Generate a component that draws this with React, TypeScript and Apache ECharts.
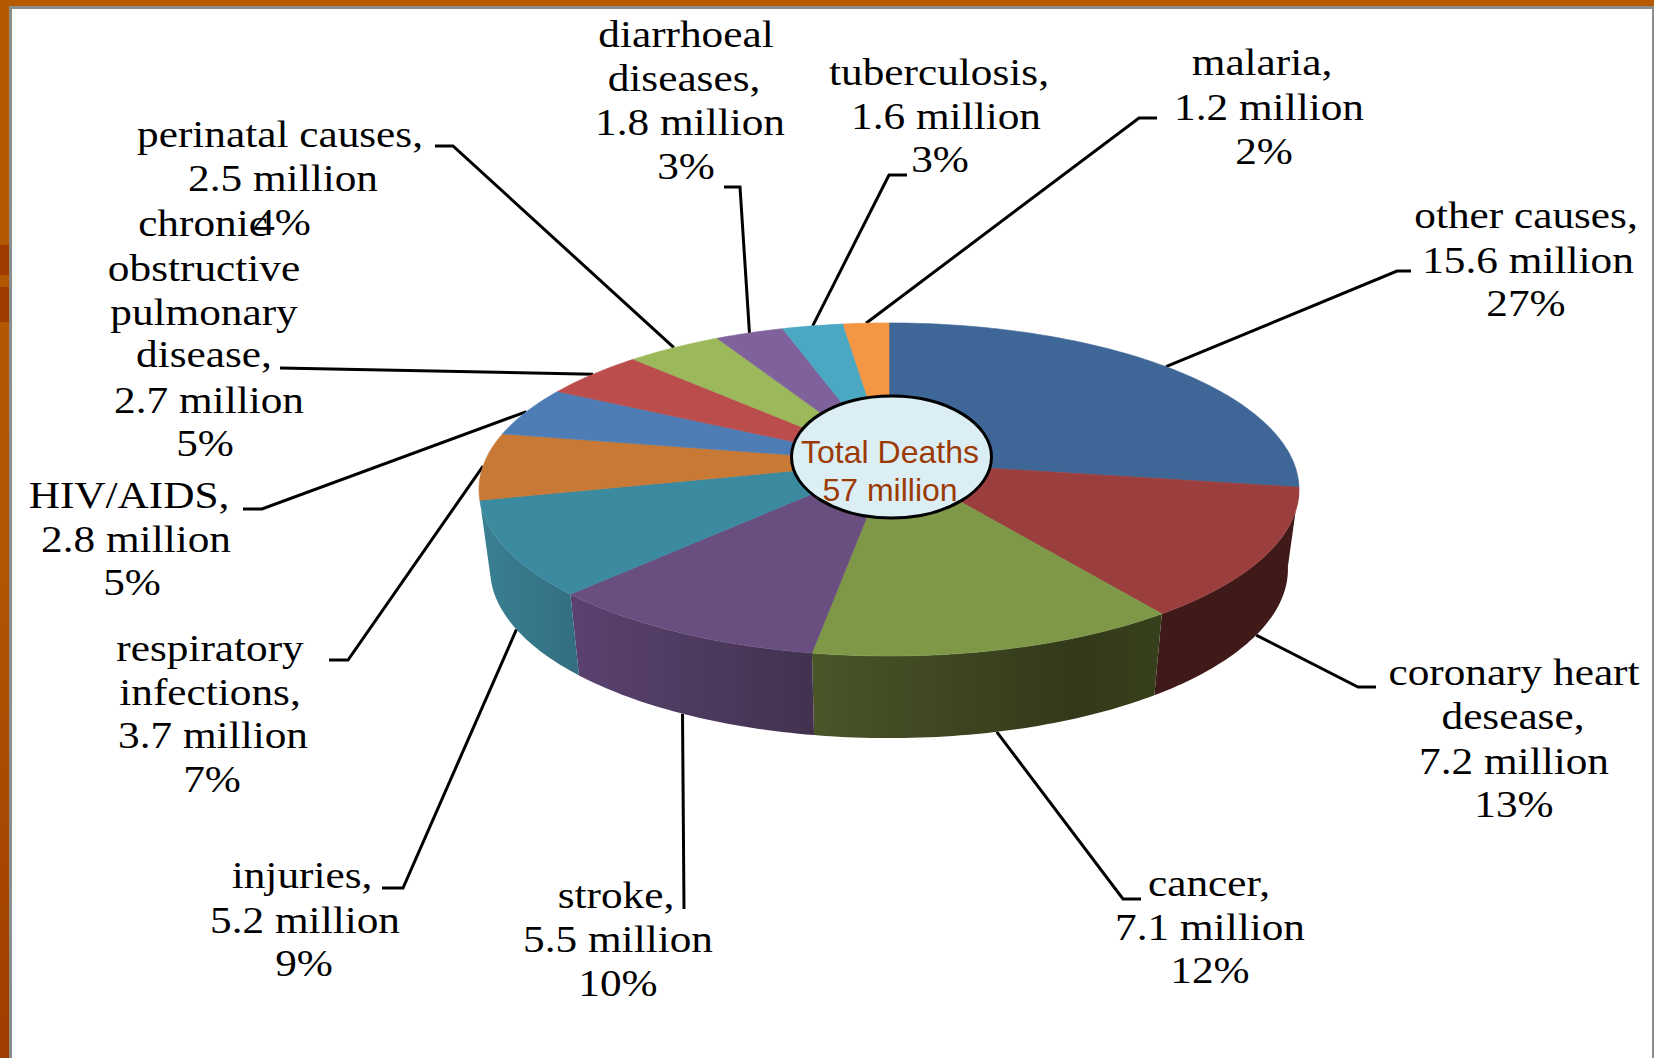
import React, { useEffect, useRef } from "react";
import * as echarts from "echarts";

// Causes of death, clockwise from twelve o'clock
const causes: string[][] = [
  ["other causes,"],
  ["coronary heart", "desease,"],
  ["cancer,"],
  ["stroke,"],
  ["injuries,"],
  ["respiratory", "infections,"],
  ["HIV/AIDS,"],
  ["chronic", "obstructive", "pulmonary", "disease,"],
  ["perinatal causes,"],
  ["diarrhoeal", "diseases,"],
  ["tuberculosis,"],
  ["malaria,"],
];
const deathsMillions = [15.6, 7.2, 7.1, 5.5, 5.2, 3.7, 2.8, 2.7, 2.5, 1.8, 1.6, 1.2];
const sharePercents = [27, 13, 12, 10, 9, 7, 5, 5, 4, 3, 3, 2];
const centerLines = ["Total Deaths", "57 million"];

const topColors = [
  "#3e6797", "#9a3f3d", "#7e9848", "#684f80", "#3b8aa0", "#c87935",
  "#4e7db6", "#bb4e4d", "#9bb85a", "#7f619c", "#4aa8c2", "#f49643",
];
const wallStops: Record<number, [number, string][]> = {
  1: [[0, "#3f1a19"], [1, "#3f1a19"]],
  2: [[0, "#4a5528"], [0.75, "#33391a"], [1, "#37401c"]],
  3: [[0, "#5a4270"], [1, "#42324f"]],
  4: [[0, "#3a8093"], [1, "#336e80"]],
};

// Centre of each text line, one list per slice
const labelCenters: [number, number][][] = [
  [[1526, 216], [1528, 261], [1526, 304]],
  [[1514, 673], [1513, 717], [1514, 762], [1514, 805]],
  [[1209, 884], [1210, 928], [1210, 971]],
  [[616, 896], [618, 940], [618, 984]],
  [[302, 876], [305, 921], [304, 964]],
  [[210, 649], [210, 693], [213, 736], [212, 780]],
  [[129, 496], [136, 540], [132, 583]],
  [[203, 224], [204, 269], [204, 313], [204, 355], [209, 401], [205, 444]],
  [[280, 135], [283, 179], [282, 223]],
  [[686, 35], [684, 79], [690, 123], [686, 167]],
  [[939, 73], [946, 117], [940, 160]],
  [[1262, 63], [1269, 108], [1264, 152]],
];
// Bend points of each leader, running from the pie towards the label
const leaderRuns: [number, number][][] = [
  [[1397, 271], [1411, 271]],
  [[1358, 687], [1376, 687]],
  [[1123, 899], [1141, 899]],
  [[684, 909]],
  [[403, 888], [382, 888]],
  [[348, 660], [329, 660]],
  [[262, 509], [243, 509]],
  [[280, 368]],
  [[453, 146], [435, 146]],
  [[740, 187], [724, 187]],
  [[889, 175], [907, 175]],
  [[1139, 118], [1157, 118]],
];

// Perspective disc: k foreshortens the far side, apexY is where the slices meet
const PIE = { cx: 889, apexY: 462, a: 404.4, b: 162, k: 0.165 };
const FLOOR = { scaleX: 0.973, scaleY: 1.016, apexY: 541 };
const TEXT_FONT = "Liberation Serif";
const TEXT_SIZE = 37;
const TEXT_STRETCH = 1.17;

const total = deathsMillions.reduce((s, v) => s + v, 0);
const startAngles = deathsMillions.map(
  (_, i) => (deathsMillions.slice(0, i).reduce((s, v) => s + v, 0) / total) * 360
);
const endAngle = (i: number) => startAngles[i] + (deathsMillions[i] / total) * 360;

function rim(deg: number, sx = 1, sy = 1, apexY = PIE.apexY): [number, number] {
  const t = (deg * Math.PI) / 180;
  const w = 1 + PIE.k * Math.cos(t);
  return [
    PIE.cx + (sx * PIE.a * Math.sin(t)) / w,
    apexY - (sy * PIE.b * Math.cos(t)) / w,
  ];
}
const floorRim = (deg: number) => rim(deg, FLOOR.scaleX, FLOOR.scaleY, FLOOR.apexY);

function arc(from: number, to: number, at: (deg: number) => [number, number] = rim) {
  const steps = Math.max(4, Math.ceil(to - from));
  const pts: [number, number][] = [];
  for (let i = 0; i <= steps; i++) pts.push(at(from + ((to - from) * i) / steps));
  return pts;
}

const isFrontWall = (i: number) => startAngles[i] >= 90 && endAngle(i) <= 270;

function leaderPoints(i: number): [number, number][] {
  const mid = (startAngles[i] + endAngle(i)) / 2;
  const anchor = isFrontWall(i) ? floorRim(mid) : rim(mid);
  return [anchor, ...leaderRuns[i]];
}

const seriesData = deathsMillions.map((v, i) => [i, v]);

function buildOption(): any {
  return {
    animation: false,
    backgroundColor: "#ffffff",
    graphic: [
      { type: "rect", z: 1, shape: { x: 0, y: 0, width: 1654, height: 6 }, style: { fill: "#b65a02" } },
      {
        type: "rect", z: 1, shape: { x: 0, y: 0, width: 9, height: 1058 },
        style: {
          fill: {
            type: "linear", x: 0, y: 0, x2: 0, y2: 1,
            colorStops: [
              { offset: 0, color: "#b65a02" },
              { offset: 0.55, color: "#b25402" },
              { offset: 1, color: "#a03c00" },
            ],
          },
        },
      },
      { type: "rect", z: 2, shape: { x: 0, y: 245, width: 9, height: 30 }, style: { fill: "#a03a00" } },
      { type: "rect", z: 2, shape: { x: 0, y: 287, width: 9, height: 35 }, style: { fill: "#a03a00" } },
      { type: "rect", z: 3, shape: { x: 9, y: 6, width: 1645, height: 3 }, style: { fill: "#8c8c8c" } },
      { type: "rect", z: 3, shape: { x: 9, y: 6, width: 3, height: 1052 }, style: { fill: "#8c8c8c" } },
      { type: "rect", z: 3, shape: { x: 1652, y: 6, width: 2, height: 1052 }, style: { fill: "#8c8c8c" } },
      {
        type: "ellipse", z: 100,
        shape: { cx: 891.5, cy: 457, rx: 100, ry: 61 },
        style: { fill: "#daeef3", stroke: "#000000", lineWidth: 3 },
      },
      ...centerLines.map((text, i) => ({
        type: "text", z: 101, x: 890, y: 452 + i * 38,
        style: {
          text, fill: "#9c3a06", font: "32px 'Liberation Sans'",
          align: "center", verticalAlign: "middle",
        },
      })),
    ],
    series: [
      {
        type: "custom", coordinateSystem: "none", silent: true, z: 2, data: seriesData,
        renderItem: (_: any, api: any) => {
          const i = api.value(0);
          return {
            type: "polyline",
            shape: { points: leaderPoints(i) },
            style: { stroke: "#000000", lineWidth: 3, fill: null },
          };
        },
      },
      {
        type: "custom", coordinateSystem: "none", silent: true, z: 3, data: seriesData,
        renderItem: (_: any, api: any) => {
          const i = api.value(0);
          if (!isFrontWall(i)) return { type: "group", children: [] };
          const from = startAngles[i];
          const to = from + (api.value(1) / total) * 360;
          const points = [...arc(from, to), ...arc(from, to, floorRim).reverse()];
          return {
            type: "polygon",
            shape: { points },
            style: {
              fill: {
                type: "linear", x: 0, y: 0, x2: 1, y2: 0,
                colorStops: wallStops[i].map(([offset, color]) => ({ offset, color })),
              },
            },
          };
        },
      },
      {
        type: "custom", coordinateSystem: "none", silent: true, z: 4, data: seriesData,
        renderItem: (_: any, api: any) => {
          const i = api.value(0);
          const from = startAngles[i];
          const to = from + (api.value(1) / total) * 360;
          return {
            type: "polygon",
            shape: { points: [[PIE.cx, PIE.apexY], ...arc(from, to)] },
            style: { fill: topColors[i], stroke: topColors[i], lineWidth: 0.6 },
          };
        },
      },
      {
        type: "custom", coordinateSystem: "none", silent: true, z: 5, data: seriesData,
        renderItem: (_: any, api: any) => {
          const i = api.value(0);
          const lines = [...causes[i], `${api.value(1).toFixed(1)} million`, `${sharePercents[i]}%`];
          return {
            type: "group",
            children: lines.map((text, j) => ({
              type: "text",
              x: labelCenters[i][j][0],
              y: labelCenters[i][j][1],
              scaleX: TEXT_STRETCH,
              style: {
                text, fill: "#000000",
                font: `${TEXT_SIZE}px '${TEXT_FONT}'`,
                align: "center", verticalAlign: "middle",
              },
            })),
          };
        },
      },
    ],
  };
}

export default function App() {
  const ref = useRef<HTMLDivElement>(null);
  useEffect(() => {
    const chart = echarts.init(ref.current!, undefined, { renderer: "svg" });
    chart.setOption(buildOption());
    return () => chart.dispose();
  }, []);
  return (
    <div
      ref={ref}
      style={{ position: "fixed", left: 0, top: 0, width: 1654, height: 1058 }}
    />
  );
}
